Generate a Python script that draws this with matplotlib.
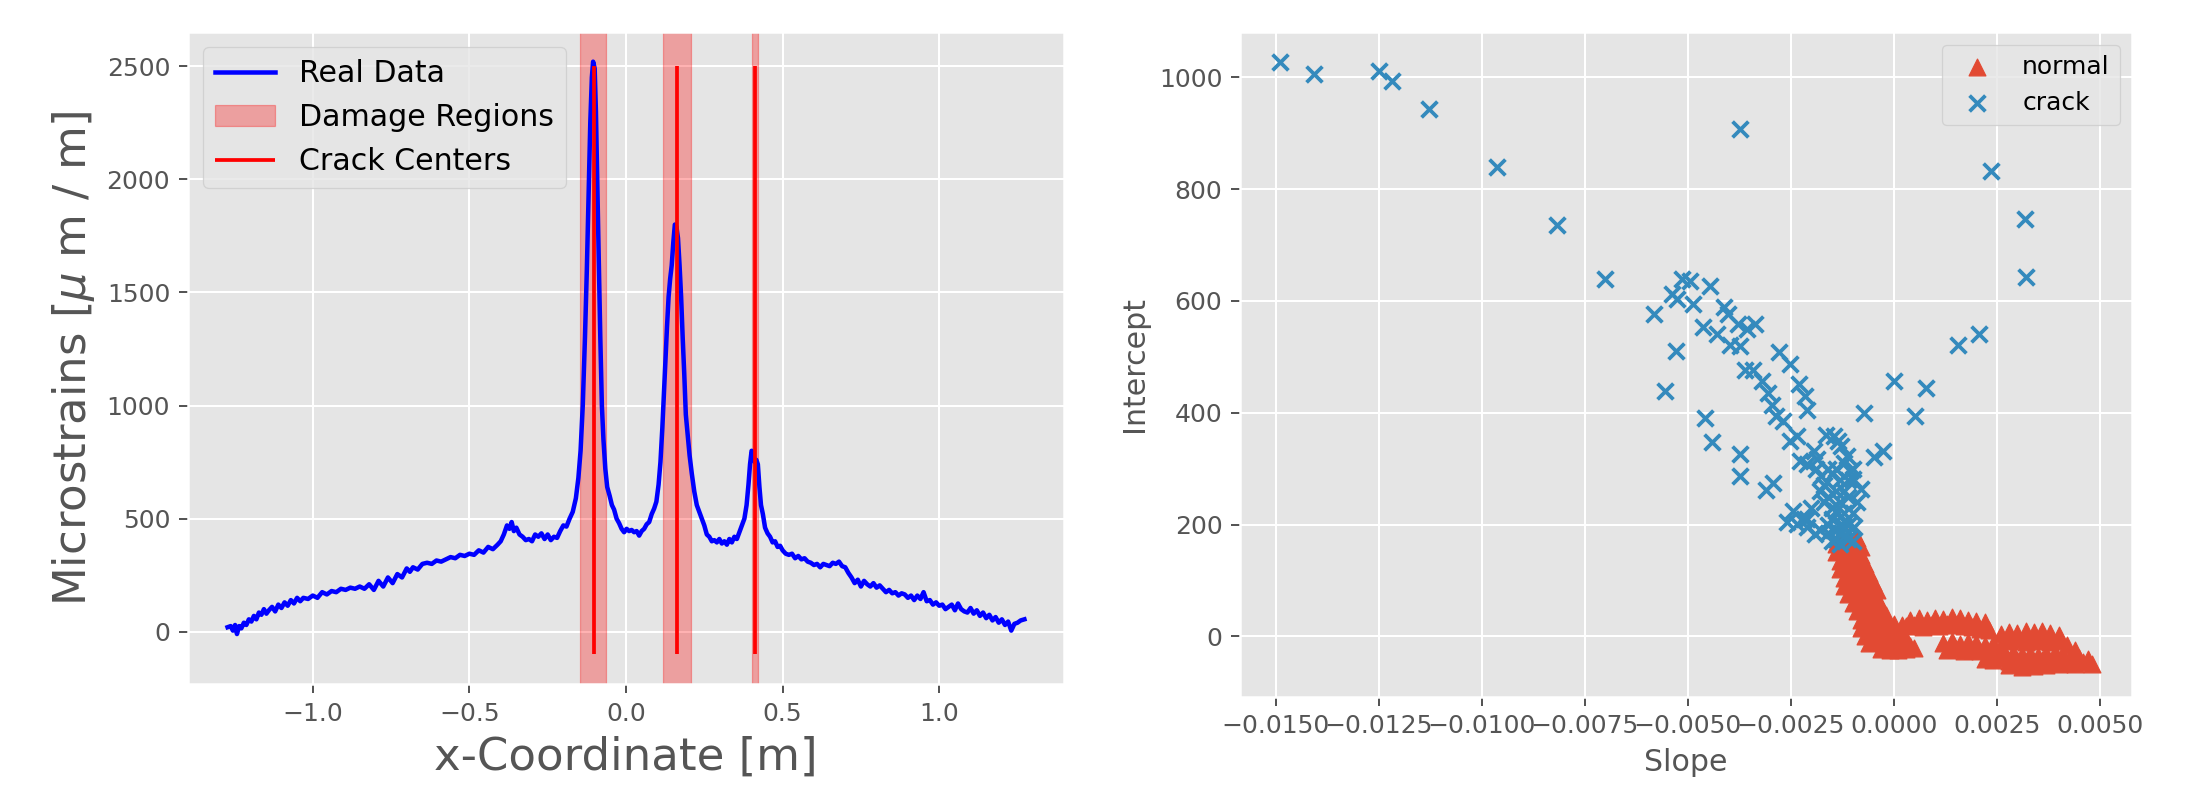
import matplotlib
matplotlib.use("Agg")
import matplotlib.pyplot as plt
import numpy as np

plt.style.use('ggplot')

# strain profile along the beam
x_coord = [-1.272, -1.262, -1.255, -1.248, -1.242, -1.235, -1.228, -1.220, -1.212, -1.204,
           -1.196, -1.188, -1.180, -1.172, -1.164, -1.156, -1.148, -1.140, -1.130, -1.120,
           -1.110, -1.100, -1.090, -1.080, -1.070, -1.060, -1.050, -1.040, -1.030, -1.015,
           -1.000, -0.985, -0.970, -0.955, -0.940, -0.925, -0.910, -0.895, -0.880, -0.865,
           -0.850, -0.835, -0.820, -0.805, -0.790, -0.775, -0.760, -0.745, -0.730, -0.715,
           -0.700, -0.690, -0.680, -0.665, -0.650, -0.635, -0.620, -0.605, -0.590, -0.575,
           -0.560, -0.545, -0.530, -0.515, -0.500, -0.485, -0.470, -0.455, -0.440, -0.425,
           -0.410, -0.400, -0.390, -0.380, -0.372, -0.365, -0.358, -0.350, -0.340, -0.330,
           -0.320, -0.310, -0.300, -0.290, -0.280, -0.270, -0.260, -0.250, -0.240, -0.230,
           -0.220, -0.210, -0.200, -0.190, -0.180, -0.170, -0.160, -0.152, -0.145, -0.138,
           -0.131, -0.125, -0.119, -0.114, -0.109, -0.105, -0.100, -0.096, -0.092, -0.087,
           -0.082, -0.077, -0.072, -0.066, -0.060, -0.052, -0.045, -0.038, -0.030, -0.022,
           -0.014, -0.006, 0.002, 0.010, 0.018, 0.026, 0.034, 0.042, 0.050, 0.058,
           0.066, 0.074, 0.082, 0.090, 0.097, 0.104, 0.110, 0.116, 0.121, 0.126,
           0.131, 0.136, 0.141, 0.146, 0.151, 0.156, 0.161, 0.166, 0.171, 0.176,
           0.181, 0.186, 0.191, 0.197, 0.203, 0.210, 0.218, 0.226, 0.234, 0.242,
           0.250, 0.258, 0.266, 0.274, 0.282, 0.290, 0.298, 0.306, 0.314, 0.322,
           0.330, 0.338, 0.346, 0.354, 0.362, 0.370, 0.378, 0.385, 0.391, 0.396,
           0.401, 0.406, 0.411, 0.416, 0.421, 0.426, 0.431, 0.437, 0.444, 0.452,
           0.460, 0.468, 0.476, 0.484, 0.492, 0.500, 0.510, 0.520, 0.530, 0.540,
           0.550, 0.560, 0.570, 0.580, 0.590, 0.600, 0.610, 0.620, 0.630, 0.640,
           0.650, 0.660, 0.670, 0.680, 0.690, 0.700, 0.710, 0.720, 0.730, 0.740,
           0.750, 0.760, 0.770, 0.780, 0.790, 0.800, 0.810, 0.820, 0.830, 0.840,
           0.850, 0.860, 0.870, 0.880, 0.890, 0.900, 0.910, 0.920, 0.930, 0.940,
           0.950, 0.960, 0.970, 0.980, 0.990, 1.000, 1.010, 1.020, 1.030, 1.040,
           1.050, 1.060, 1.070, 1.080, 1.090, 1.100, 1.110, 1.120, 1.130, 1.140,
           1.150, 1.160, 1.170, 1.180, 1.190, 1.200, 1.210, 1.220, 1.230, 1.240,
           1.250, 1.260, 1.272]
strain = [20, 25, 5, 30, -10, 25, 15, 40, 30, 55,
          45, 70, 55, 85, 75, 100, 80, 95, 110, 90,
          120, 105, 130, 115, 140, 125, 150, 135, 150, 145,
          160, 150, 175, 165, 180, 175, 190, 185, 195, 190,
          200, 190, 210, 185, 225, 200, 240, 215, 255, 240,
          280, 265, 285, 275, 300, 305, 300, 315, 310, 320,
          330, 325, 340, 335, 345, 340, 360, 350, 375, 365,
          385, 400, 430, 470, 455, 485, 445, 460, 430, 420,
          405, 410, 400, 430, 420, 435, 410, 430, 405, 420,
          415, 445, 470, 465, 500, 530, 590, 680, 800, 1000,
          1300, 1600, 1950, 2250, 2450, 2520, 2490, 2300, 2000, 1650,
          1300, 1000, 850, 720, 640, 600, 560, 540, 500, 480,
          455, 440, 455, 445, 450, 440, 445, 425, 445, 455,
          475, 485, 520, 545, 575, 650, 750, 900, 1050, 1200,
          1350, 1480, 1560, 1620, 1720, 1800, 1790, 1740, 1620, 1480,
          1300, 1140, 960, 870, 780, 700, 620, 560, 530, 500,
          470, 430, 420, 400, 405, 395, 410, 390, 400, 385,
          410, 395, 420, 410, 440, 470, 500, 560, 650, 740,
          800, 790, 750, 760, 740, 640, 560, 520, 460, 435,
          420, 395, 400, 375, 380, 360, 345, 340, 345, 325,
          335, 320, 325, 310, 305, 295, 300, 285, 300, 295,
          290, 305, 300, 310, 290, 285, 260, 240, 215, 230,
          200, 225, 210, 200, 215, 195, 205, 190, 175, 185,
          170, 175, 160, 170, 165, 150, 160, 140, 160, 145,
          175, 135, 140, 120, 130, 115, 120, 100, 110, 120,
          95, 125, 100, 90, 85, 105, 80, 95, 70, 85,
          60, 75, 50, 65, 40, 55, 30, 45, 5, 35,
          40, 50, 55]

damage_regions = [(-0.146, -0.063), (0.117, 0.2065), (0.403, 0.421)]
crack_centers = [-0.103, 0.162, 0.412]

# regression features per window
normal_slope = [-0.0013, -0.0011, -0.0009,
                -0.0014, -0.0012, -0.0010, -0.0008,
                -0.0014, -0.0012, -0.0010, -0.0008,
                -0.0013, -0.0011, -0.0009, -0.0007,
                -0.0013, -0.0011, -0.0009, -0.0007, -0.0006,
                -0.0012, -0.0010, -0.0008, -0.0006, -0.0005,
                -0.0012, -0.0010, -0.0008, -0.0006, -0.0004,
                -0.0011, -0.0009, -0.0007, -0.0005, -0.0004,
                -0.0010, -0.0008, -0.0006, -0.0004, -0.0003,
                -0.0009, -0.0007, -0.0005, -0.0003, -0.0002,
                -0.0008, -0.0006, -0.0004, -0.0002, 0.0000, 0.0002,
                -0.0008, -0.0006, -0.0004, -0.0002, 0.0000, 0.0002,
                -0.0007, -0.0005, -0.0003, -0.0001, 0.0001, 0.0003,
                -0.0006, -0.0004, -0.0002, 0.0000, 0.0002, 0.0004,
                -0.0003, -0.0001, 0.0001, 0.0003, 0.0005,
                0.0004, 0.0006, 0.0008, 0.0010, 0.0012, 0.0014, 0.0016, 0.0018, 0.0020, 0.0022,
                0.0003, 0.0005, 0.0007, 0.0009, 0.0011, 0.0013, 0.0015, 0.0017, 0.0019, 0.0021, 0.0023,
                0.0012, 0.0014, 0.0016, 0.0018, 0.0020, 0.0022, 0.0024, 0.0026,
                0.0013, 0.0015, 0.0017, 0.0019, 0.0021, 0.0023, 0.0025, 0.0027, 0.0029,
                0.0031, 0.0033, 0.0035, 0.0037, 0.0039, 0.0041, 0.0043, 0.0045, 0.0047,
                0.0022, 0.0024, 0.0026, 0.0028, 0.0030, 0.0032, 0.0034, 0.0036, 0.0038,
                0.0040, 0.0042, 0.0044, 0.0046, 0.0048,
                0.0028, 0.0031, 0.0034, 0.0037, 0.0040,
                0.0026, 0.0028, 0.0030, 0.0032, 0.0034, 0.0036, 0.0038, 0.0040,
                0.0028, 0.0030, 0.0032, 0.0034, 0.0036, 0.0038, 0.0040, 0.0042, 0.0044]
normal_intercept = [180, 178, 176,
                    165, 166, 163, 160,
                    150, 152, 148, 146,
                    135, 137, 133, 130,
                    120, 122, 118, 116, 113,
                    105, 107, 103, 100, 98,
                    90, 92, 88, 85, 83,
                    75, 77, 73, 70, 68,
                    60, 62, 58, 55, 53,
                    45, 47, 43, 40, 38,
                    30, 32, 28, 25, 22, 20,
                    15, 17, 13, 10, 8, 5,
                    0, 2, -2, -5, -7, -5,
                    -12, -10, -14, -16, -14, -18,
                    -22, -25, -24, -22, -20,
                    30, 32, 29, 33, 31, 34, 32, 30, 28, 25,
                    18, 20, 17, 21, 19, 22, 20, 18, 16, 14, 12,
                    -12, -8, -14, -10, -12, -16, -14, -18,
                    -25, -22, -27, -24, -26, -30, -28, -32, -30,
                    -33, -31, -35, -32, -30, -34, -36, -38, -40,
                    -40, -42, -38, -44, -42, -46, -44, -42, -45,
                    -43, -47, -49, -46, -50,
                    -52, -54, -53, -51, -50,
                    5, 8, 6, 10, 7, 9, 6, 3,
                    -8, -6, -10, -7, -9, -11, -8, -15, -25]

crack_slope = [-0.01488, -0.01406, -0.01249, -0.01218, -0.01128, -0.00962, -0.00818, -0.00700,
               -0.00372, 0.00236, 0.00318, 0.00320, 0.00206, 0.00156, 0.00000, 0.00077,
               0.00052, -0.00072, -0.00027, -0.00047, -0.00080,
               -0.00581, -0.00554, -0.00529, -0.00537, -0.00526, -0.00515, -0.00495, -0.00487,
               -0.00445, -0.00462, -0.00459, -0.00440, -0.00428, -0.00412, -0.00403, -0.00398,
               -0.00378, -0.00373, -0.00357, -0.00336, -0.00361, -0.00341, -0.00320, -0.00306,
               -0.00295, -0.00286, -0.00270, -0.00278, -0.00253, -0.00231, -0.00216, -0.00211,
               -0.00373, -0.00372, -0.00311, -0.00293, -0.00253, -0.00236, -0.00228, -0.00211,
               -0.00194, -0.00186, -0.00177, -0.00164, -0.00144, -0.00136, -0.00127, -0.00114,
               -0.00107, -0.00099, -0.00119, -0.00097, -0.00258, -0.00244, -0.00236, -0.00219,
               -0.00211, -0.00191,
               -0.0016, -0.0015, -0.0014, -0.0013, -0.0015, -0.0014, -0.0013, -0.0012,
               -0.0011, -0.0012, -0.0011, -0.0013, -0.0014, -0.0012, -0.0016, -0.0017,
               -0.0017, -0.0018, -0.0015, -0.0013, -0.0011, -0.0010, -0.0012, -0.0014,
               -0.0016, -0.0013, -0.0012, -0.0015, -0.0011, -0.0010, -0.0009, -0.0014,
               -0.0016, -0.0019, -0.0020, -0.0018, -0.0021, -0.0010]
crack_intercept = [1027, 1006, 1011, 993, 943, 839, 735, 640,
                   907, 833, 746, 643, 540, 522, 456, 444,
                   394, 400, 332, 320, 264,
                   576, 439, 511, 612, 603, 640, 635, 594,
                   626, 554, 390, 347, 540, 590, 576, 522,
                   558, 519, 549, 558, 477, 477, 457, 436,
                   413, 395, 386, 508, 488, 452, 430, 405,
                   327, 287, 262, 275, 350, 359, 314, 309,
                   332, 318, 287, 361, 359, 350, 341, 323,
                   296, 282, 205, 196, 205, 224, 201, 210,
                   196, 183,
                   250, 230, 260, 240, 210, 190, 200, 180,
                   175, 220, 250, 280, 300, 310, 200, 240,
                   270, 260, 170, 165, 200, 220, 260, 225,
                   185, 185, 195, 290, 280, 300, 240, 175,
                   300, 300, 230, 190, 210, 170]

fig, (ax1, ax2) = plt.subplots(1, 2, figsize=(2193/180, 795/180), dpi=180)
ax1.set_position([0.0856, 0.1396, 0.3997, 0.8201])
ax2.set_position([0.5654, 0.1236, 0.4069, 0.8361])

# left: strain profile with damage regions
ax1.plot(x_coord, strain, color='blue', linewidth=1.8, label='Real Data')
for i, (a, b) in enumerate(damage_regions):
    ax1.axvspan(a, b, color='red', alpha=0.3, label='Damage Regions' if i == 0 else None)
ax1.vlines(crack_centers, -100, 2500, colors='red', label='Crack Centers')
ax1.set_xlabel('x-Coordinate [m]', fontsize=18)
ax1.set_ylabel(r'Microstrains [$\mu$ m / m]', fontsize=18)
ax1.legend(loc='upper left', fontsize=12)

# right: slope/intercept features
ax2.scatter(normal_slope, normal_intercept, marker='^', s=45, label='normal')
ax2.scatter(crack_slope, crack_intercept, marker='x', s=40, label='crack')
ax2.set_xlabel('Slope')
ax2.set_ylabel('Intercept')
ax2.legend(loc='upper right')

plt.savefig('out.png', dpi=180)
